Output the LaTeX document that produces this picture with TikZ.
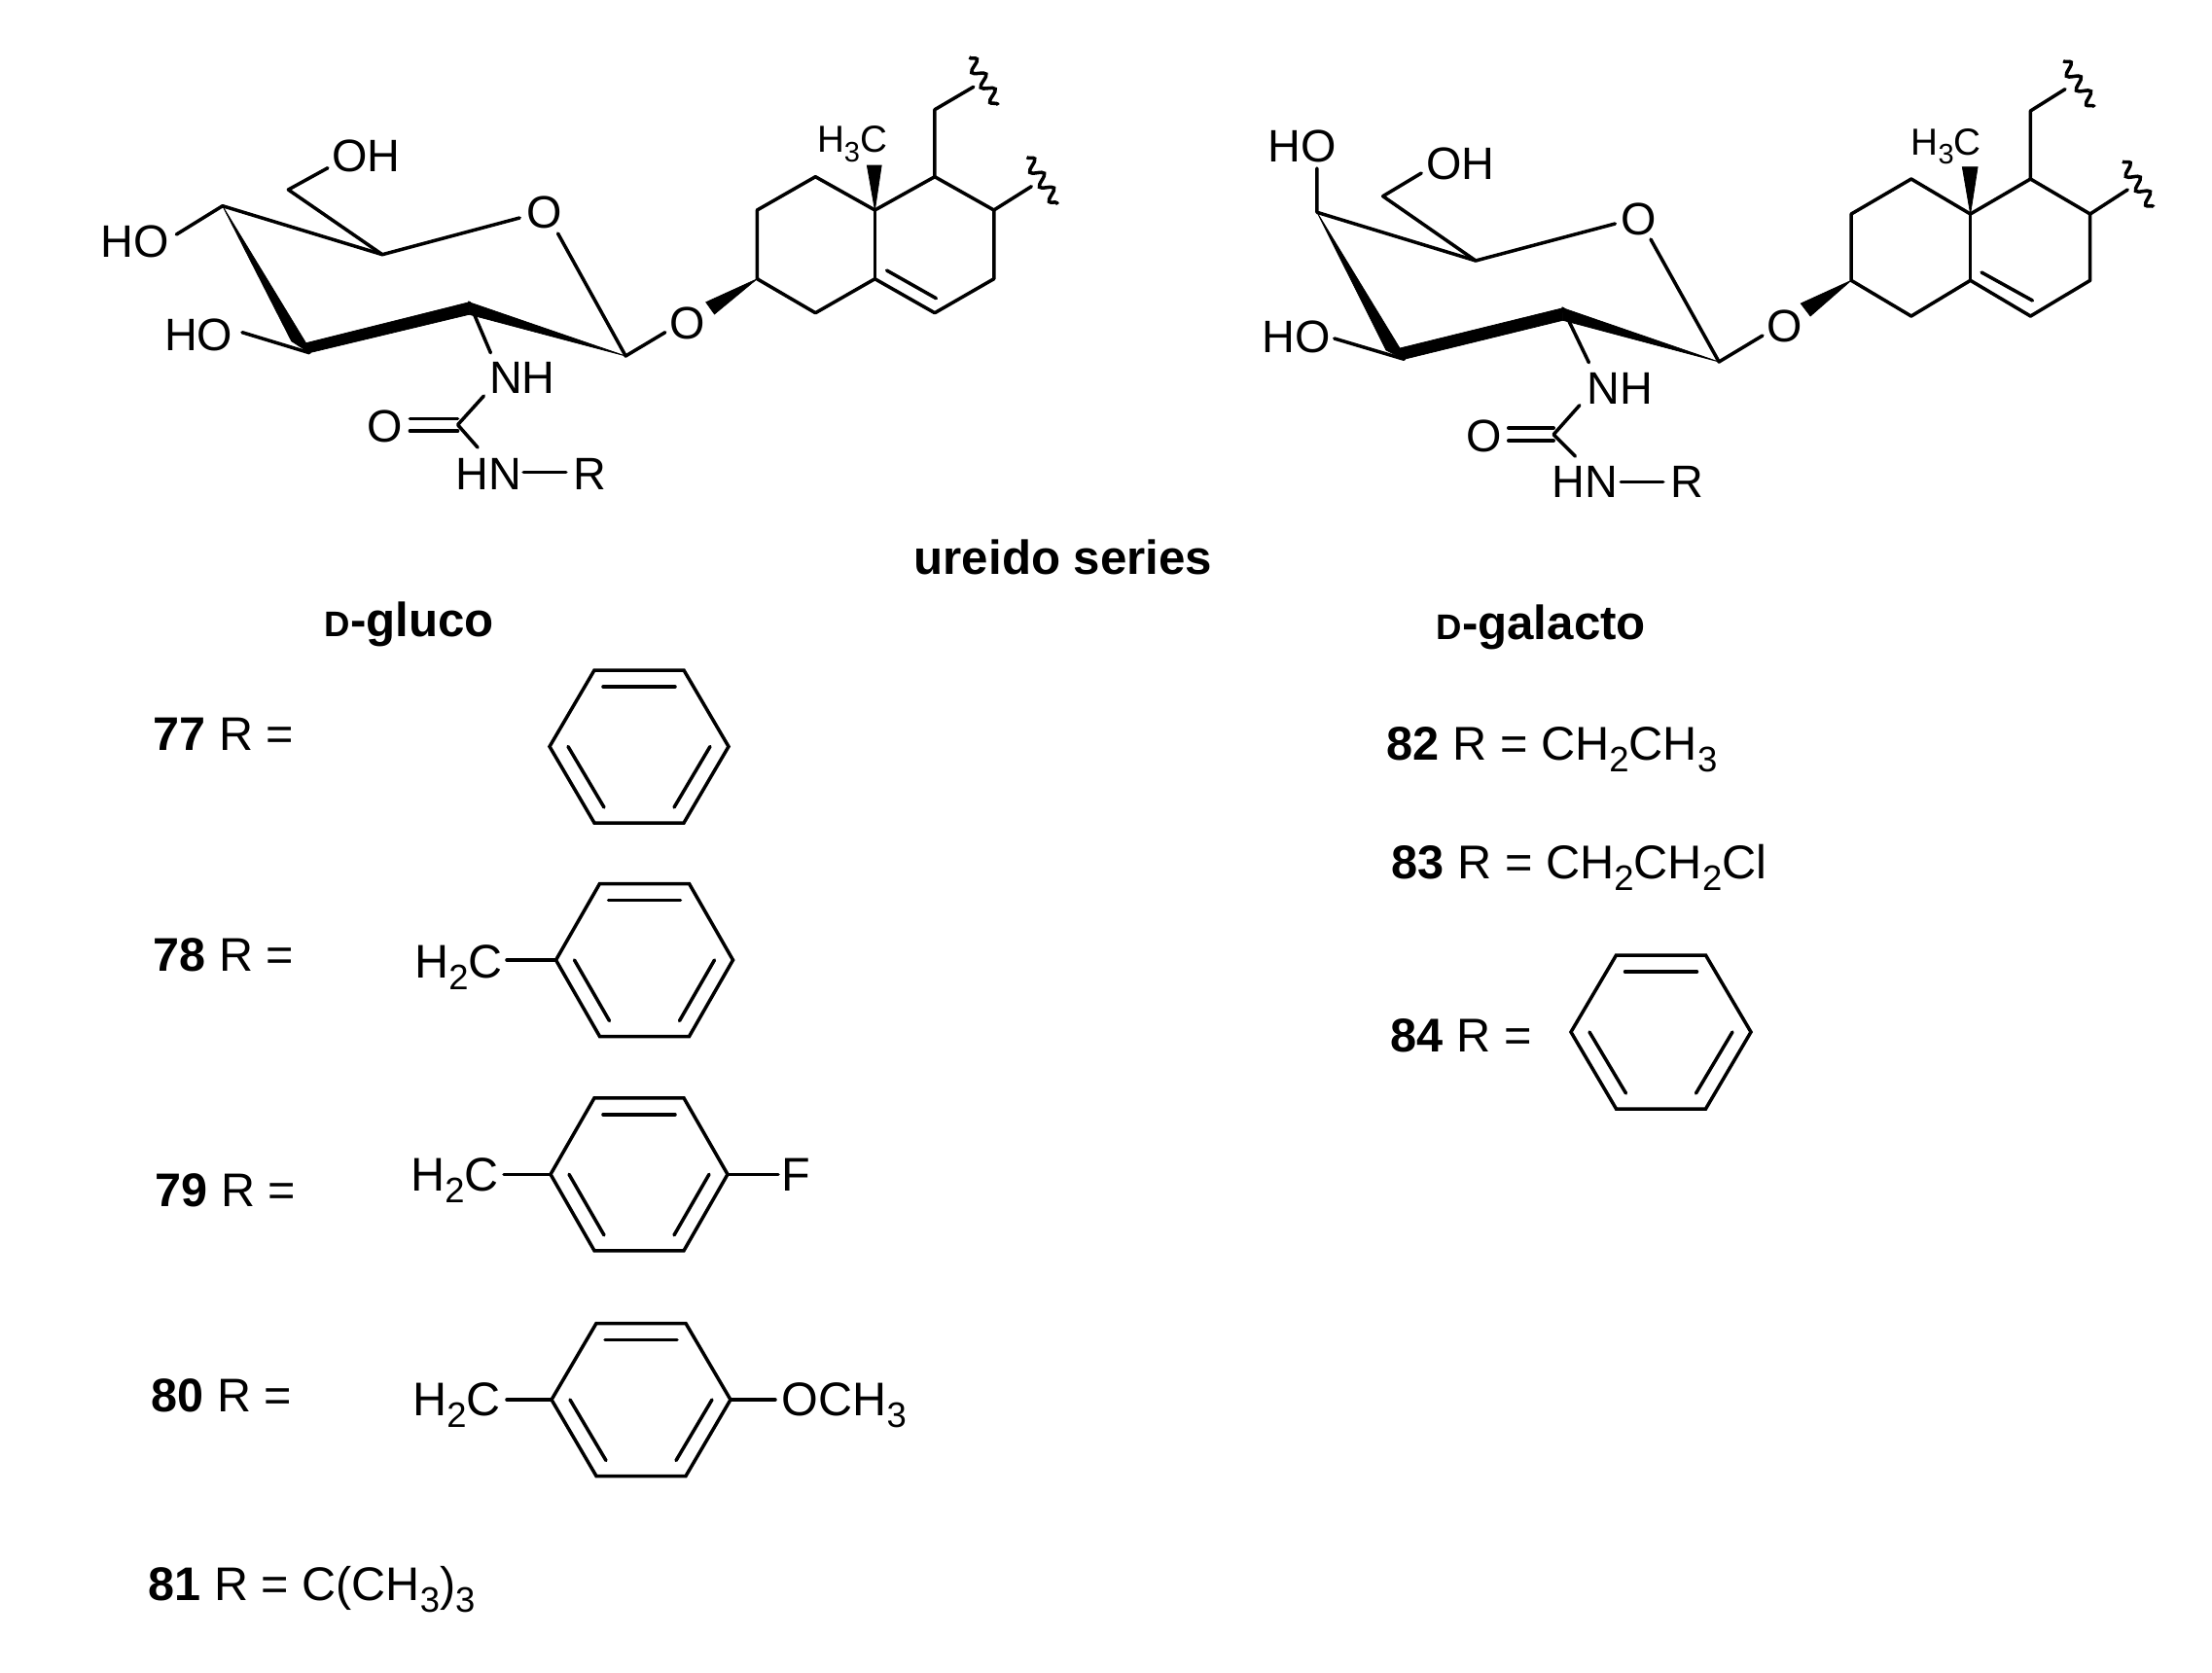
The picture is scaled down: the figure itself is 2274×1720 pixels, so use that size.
\documentclass[tikz,border=0pt]{standalone}
\usepackage{fontspec}
\usepackage{graphicx}
\setmainfont{Liberation Sans}
\usetikzlibrary{decorations.pathmorphing}
\newcommand{\subs}[1]{\raisebox{-.25em}{\scalebox{.75}{#1}}}
\newcommand{\Dcap}{{\fontsize{10.4}{12}\selectfont D}}
% \ringat{name}{cx}{cy}{half width}{half top edge}{half height}
\newcommand{\ringat}[6]{%
  \coordinate (#1L) at ({#2-#4},#3);
  \coordinate (#1R) at ({#2+#4},#3);
  \coordinate (#1TL) at ({#2-#5},{#3-#6});
  \coordinate (#1TR) at ({#2+#5},{#3-#6});
  \coordinate (#1BL) at ({#2-#5},{#3+#6});
  \coordinate (#1BR) at ({#2+#5},{#3+#6});
  \draw[bond,line join=miter] (#1L) -- (#1TL) -- (#1TR) -- (#1R) -- (#1BR) -- (#1BL) -- cycle;
  \draw[bond] ({#2-#5+9},{#3-#6+17}) -- ({#2+#5-9},{#3-#6+17});
  \draw[bond] ({#2-#4+19},#3) -- ({#2-#5+10},{#3+#6-16});
  \draw[bond] ({#2+#4-19},#3) -- ({#2+#5-10},{#3+#6-16});
}
\tikzset{
  bond/.style={line width=1.0pt,line cap=round,line join=round},
  solid wedge/.style={fill=black,draw=black,line width=0.2pt,line join=miter},
  wavy/.style={line width=1.0pt,decorate,decoration={snake,amplitude=0.06cm,segment length=0.18cm}},
  lab/.style={font=\fontsize{13.3}{16}\selectfont,inner sep=0pt,anchor=base},
  labw/.style={lab,anchor=base west},
  small lab/.style={font=\fontsize{11}{13}\selectfont,inner sep=0pt,anchor=base west},
  item/.style={font=\fontsize{13.8}{16}\selectfont,inner sep=0pt,anchor=base west},
  itemr/.style={font=\fontsize{13.85}{17}\selectfont,inner sep=0pt,anchor=base west},
  head/.style={font=\fontsize{14}{17}\selectfont\bfseries,inner sep=0pt,anchor=base west},
}
\begin{document}
\begin{tikzpicture}[x=0.01cm,y=-0.01cm]
\useasboundingbox (0,0) rectangle (2274,1720);
\fill[white] (0,0) rectangle (2274,1720);

%% ---------- D-gluco molecule ----------
\begin{scope}[shift={(80,0)},xscale=0.9939,shift={(-80,0)}]
\coordinate (aC4) at (229.7,211.7);
\coordinate (aC5) at (395,261.7);
\coordinate (aC1) at (646.7,366);
\coordinate (aC2) at (484.8,311);
\coordinate (aC3) at (319.5,362.7);
\coordinate (aC6) at (297.7,195);
\coordinate (aC6e) at (338.5,172.7);
\coordinate (aHOe) at (182,241);
\coordinate (aHOf) at (250,341.7);
\coordinate (aO5a) at (537,224);
\coordinate (aO5b) at (576.6,240);
\coordinate (aO1e) at (687.5,341.7);
\coordinate (aNe) at (507,362.7);
\coordinate (aNf) at (500,407);
\coordinate (aCU) at (473,436.7);
\coordinate (aNg) at (493.6,460);
\coordinate (aRa) at (541,485.7);
\coordinate (aRb) at (585,485.7);

\node[labw] (aOH) at (342,176.5) {OH};
\node[labw] (aHOt) at (103,264) {HO};
\node[labw] (aHOb) at (169,360) {HO};
\node[lab] (aO5) at (563,234) {O};
\node[lab] (aO1) at (711,348) {O};
\node[labw] (aNH) at (505,404) {NH};
\node[lab] (aOc) at (398,454) {O};
\node[labw] (aHN) at (470,503) {HN};
\node[labw] (aR) at (592,503) {R};
\node[small lab] (aMe) at (844,156.7) {H\subs{3}C};

\draw[bond] (aHOe) -- (aC4) -- (aC5) -- (aO5a);
\draw[bond] (aC6e) -- (aC6) -- (aC5);
\draw[bond] (aO5b) -- (aC1) -- (aO1e);
\draw[bond] (aC3) -- (aHOf);
\draw[bond] (aC2) -- (aNe);
\draw[bond] (aNf) -- (aCU) -- (aNg);
\draw[bond] (aRa) -- (aRb);
\draw[bond] (423.5,430.7) -- (473,430.7);
\draw[bond] (423.5,443) -- (473,443);
\fill[solid wedge] (aC4) -- (301,350.7) -- (aC3) -- (316,352.7) -- cycle;
\fill[solid wedge] (316,352.7) -- (484.8,310.7) -- (484.8,323.3) -- (aC3) -- cycle;
\fill[solid wedge] (484.8,310.7) -- (aC1) -- (484.8,323.3) -- cycle;

\coordinate (ar1) at (782.7,286.7);
\coordinate (ar2) at (843,321.7);
\coordinate (ar3) at (904.5,286.7);
\coordinate (ar4) at (966.4,321.7);
\coordinate (ar5) at (1027.6,286.7);
\coordinate (ar6) at (1027.6,216);
\coordinate (ar7) at (966.4,181.7);
\coordinate (ar8) at (904.5,216);
\coordinate (ar9) at (843,181.7);
\coordinate (ar10) at (782.7,216);
\draw[bond] (ar1) -- (ar2) -- (ar3) -- (ar4) -- (ar5) -- (ar6) -- (ar7) -- (ar8) -- (ar9) -- (ar10) -- cycle;
\draw[bond] (ar8) -- (ar3);
\draw[bond] (916.7,278) -- (967.8,306.7);
\fill[solid wedge] (ar1) -- (729.7,310.7) -- (738.5,323) -- cycle;
\fill[solid wedge] (ar8) -- (896.3,170) -- (911.3,170) -- cycle;
\coordinate (aw1) at (966.4,112.7);
\coordinate (aw2) at (1006.5,89.3);
\coordinate (aw3) at (1066.4,191.7);
\draw[bond] (ar7) -- (aw1) -- (aw2);
\draw[bond] (ar6) -- (aw3);
\draw[wavy] (1002,59) -- (1032,108);
\draw[wavy] (1061.6,161.7) -- (1093.6,210);
\end{scope}

%% ---------- D-galacto molecule ----------
\begin{scope}[shift={(1270,0)},xscale=0.9885,shift={(-1270,0)}]
\coordinate (bC4) at (1355,218.3);
\coordinate (bC5) at (1520,268);
\coordinate (bC1) at (1773,372);
\coordinate (bC2) at (1610.6,317);
\coordinate (bC3) at (1445.5,369.3);
\coordinate (bC6) at (1423.5,201.7);
\coordinate (bC6e) at (1463.5,178);
\coordinate (bHOe) at (1355,173);
\coordinate (bHOf) at (1373,348);
\coordinate (bO5a) at (1665,230);
\coordinate (bO5b) at (1702,246);
\coordinate (bO1e) at (1818.4,345);
\coordinate (bNe) at (1637.7,372.7);
\coordinate (bNf) at (1628,416.7);
\coordinate (bCU) at (1601,446.7);
\coordinate (bNg) at (1623.5,469);
\coordinate (bRa) at (1671,495.7);
\coordinate (bRb) at (1715,495.7);

\node[labw] (bOH) at (1468,184) {OH};
\node[labw] (bHOt) at (1303,166.7) {HO};
\node[labw] (bHOb) at (1297,362.7) {HO};
\node[lab] (bO5) at (1689.4,241) {O};
\node[lab] (bO1) at (1841,351.7) {O};
\node[labw] (bNH) at (1635,415) {NH};
\node[lab] (bOc) at (1529,464) {O};
\node[labw] (bHN) at (1599,511.7) {HN};
\node[labw] (bR) at (1722,511.7) {R};
\node[small lab] (bMe) at (1972,159) {H\subs{3}C};

\draw[bond] (bHOe) -- (bC4) -- (bC5) -- (bO5a);
\draw[bond] (bC6e) -- (bC6) -- (bC5);
\draw[bond] (bO5b) -- (bC1) -- (bO1e);
\draw[bond] (bC3) -- (bHOf);
\draw[bond] (bC2) -- (bNe);
\draw[bond] (bNf) -- (bCU) -- (bNg);
\draw[bond] (bRa) -- (bRb);
\draw[bond] (1554,440) -- (1601,440);
\draw[bond] (1554,453) -- (1601,453);
\fill[solid wedge] (bC4) -- (1426.8,360) -- (bC3) -- (1441,358) -- cycle;
\fill[solid wedge] (1441,358) -- (1610.6,316.7) -- (1610.6,329.3) -- (bC3) -- cycle;
\fill[solid wedge] (1610.6,316.7) -- (bC1) -- (1610.6,329.3) -- cycle;

\coordinate (br1) at (1910.6,288.3);
\coordinate (br2) at (1973,325);
\coordinate (br3) at (2034.5,288.3);
\coordinate (br4) at (2097,325);
\coordinate (br5) at (2159,288.3);
\coordinate (br6) at (2159,220);
\coordinate (br7) at (2097,184);
\coordinate (br8) at (2034.5,220);
\coordinate (br9) at (1973,184);
\coordinate (br10) at (1910.6,220);
\draw[bond] (br1) -- (br2) -- (br3) -- (br4) -- (br5) -- (br6) -- (br7) -- (br8) -- (br9) -- (br10) -- cycle;
\draw[bond] (br8) -- (br3);
\draw[bond] (2046,280) -- (2099,309);
\fill[solid wedge] (br1) -- (1858,312) -- (1868,325) -- cycle;
\fill[solid wedge] (br8) -- (2026,171.7) -- (2042,171.7) -- cycle;
\coordinate (bw1) at (2097,114);
\coordinate (bw2) at (2133,91.7);
\coordinate (bw3) at (2198,195);
\draw[bond] (br7) -- (bw1) -- (bw2);
\draw[bond] (br6) -- (bw3);
\draw[wavy] (2131,62.7) -- (2163.5,110);
\draw[wavy] (2192.6,166) -- (2225,212.7);
\end{scope}

%% ---------- headings ----------
\node[head] (hSeries) at (939,590.5) {ureido series};
\node[head] (hGluco) at (333,654) {\Dcap-gluco};
\node[head] (hGalacto) at (1476,657) {\Dcap-galacto};

%% ---------- left list ----------
\node[item] (i77) at (157,771.8) {\textbf{77} R =};
\node[item] (i78) at (157,998.6) {\textbf{78} R =};
\node[item] (i79) at (159,1240.4) {\textbf{79} R =};
\node[item] (i80) at (155,1451) {\textbf{80} R =};
\node[item] (i81) at (152,1645) {\textbf{81} R = C(CH\subs{3})\subs{3}};

\ringat{rA}{657}{767.5}{92}{46}{78.5}
\ringat{rB}{662.5}{987}{91}{46}{78.5}
\ringat{rC}{657}{1207.3}{91}{46}{78.5}
\ringat{rD}{659}{1439}{92}{46}{78.5}

\node[item] (hB) at (425.5,1005) {H\subs{2}C};
\coordinate (hBe) at (521,987);
\draw[bond] (hBe) -- (rBL);
\node[item] (hC) at (421.5,1224) {H\subs{2}C};
\coordinate (hCe) at (518,1207.3);
\draw[bond] (hCe) -- (rCL);
\node[item] (fC) at (803,1224) {F};
\coordinate (fCe) at (800,1207.3);
\draw[bond] (rCR) -- (fCe);
\node[item] (hD) at (423.5,1455.5) {H\subs{2}C};
\coordinate (hDe) at (521,1439);
\draw[bond] (hDe) -- (rDL);
\node[item] (oD) at (803,1455.5) {OCH\subs{3}};
\coordinate (oDe) at (797,1439);
\draw[bond] (rDR) -- (oDe);

%% ---------- right list ----------
\node[itemr] (i82) at (1425,781) {\textbf{82} R = CH\subs{2}CH\subs{3}};
\node[itemr] (i83) at (1430,903.6) {\textbf{83} R = CH\subs{2}CH\subs{2}Cl};
\node[itemr] (i84) at (1429,1081) {\textbf{84} R =};
\ringat{rE}{1707.5}{1061}{92.5}{46}{79}
\end{tikzpicture}
\end{document}
